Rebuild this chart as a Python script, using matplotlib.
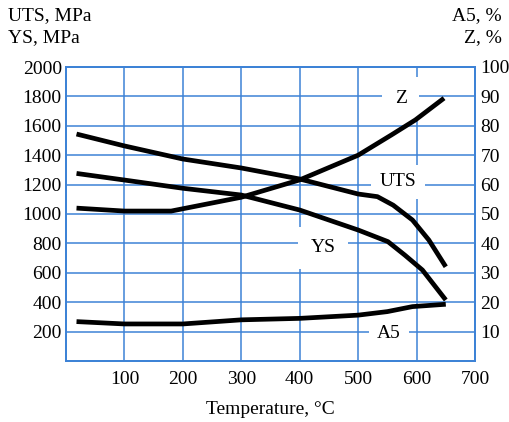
import matplotlib
matplotlib.use("Agg")
import matplotlib.pyplot as plt

# Temperature, °C
uts_t = [18, 100, 200, 300, 400, 500, 533, 560, 593, 621, 650]
uts_v = [1544, 1463, 1374, 1313, 1238, 1136, 1118, 1060, 959, 823, 641]

ys_t = [18, 100, 200, 300, 400, 500, 551, 580, 610, 650]
ys_v = [1276, 1231, 1175, 1129, 1027, 891, 812, 720, 619, 415]

z_t = [18, 100, 180, 300, 400, 500, 557, 598, 647]
z_v = [52.0, 51.0, 51.0, 55.7, 61.6, 70.0, 76.9, 82.0, 89.4]

a5_t = [18, 100, 200, 300, 400, 500, 550, 593, 650]
a5_v = [13.4, 12.6, 12.6, 14.0, 14.5, 15.6, 16.8, 18.5, 19.3]

x_ticks = [100, 200, 300, 400, 500, 600, 700]
left_ticks = [200, 400, 600, 800, 1000, 1200, 1400, 1600, 1800, 2000]
right_ticks = [10, 20, 30, 40, 50, 60, 70, 80, 90, 100]

serif = ["Liberation Serif", "DejaVu Serif"]
plt.rcParams["font.family"] = serif
grid_c = "#3d82d6"

fig = plt.figure(figsize=(5.1, 4.22), dpi=100)
ax = fig.add_axes([66 / 510, (422 - 361) / 422, (475 - 66) / 510, (361 - 67) / 422])
ax2 = ax.twinx()

ax.set_xlim(0, 700)
ax.set_ylim(0, 2000)
ax2.set_ylim(0, 100)
ax.set_xticks(x_ticks)
ax.set_yticks(left_ticks)
ax2.set_yticks(right_ticks)
ax.grid(True, color=grid_c, linewidth=1.1)
ax.set_axisbelow(True)
for a in (ax, ax2):
    for s in a.spines.values():
        s.set_color(grid_c)
        s.set_linewidth(1.3)
    a.tick_params(length=0, labelsize=14, pad=3)
ax2.tick_params(length=0, labelsize=14, pad=4)
ax.tick_params(axis="x", pad=7)

lw = 3.4
ax.plot(uts_t, uts_v, color="black", lw=lw, solid_capstyle="butt", zorder=3)
ax.plot(ys_t, ys_v, color="black", lw=lw, solid_capstyle="butt", zorder=3)
ax2.plot(z_t, z_v, color="black", lw=lw, solid_capstyle="butt", zorder=3)
ax2.plot(a5_t, a5_v, color="black", lw=lw, solid_capstyle="butt", zorder=3)

box = dict(facecolor="white", edgecolor="none", pad=6)
ax.text(573, 1787, "Z", fontsize=14, ha="center", va="center",
        bbox=dict(facecolor="white", edgecolor="none", pad=9), zorder=2)
ax.text(568, 1220, "UTS", fontsize=14, ha="center", va="center", bbox=box, zorder=2)
ax.text(440, 769, "YS", fontsize=14, ha="center", va="center",
        bbox=dict(facecolor="white", edgecolor="none", pad=9), zorder=2)
ax.text(553, 190, "A5", fontsize=14, ha="center", va="center", bbox=box, zorder=2)

fig.text(270 / 510, 1 - 410 / 422, "Temperature, °C", fontsize=14, ha="center", va="center")

fig.text(8 / 510, 1 - 16 / 422, "UTS, MPa", fontsize=14, ha="left", va="center")
fig.text(8 / 510, 1 - 38 / 422, "YS, MPa", fontsize=14, ha="left", va="center")
fig.text(502 / 510, 1 - 16 / 422, "A5, %", fontsize=14, ha="right", va="center")
fig.text(502 / 510, 1 - 38 / 422, "Z, %", fontsize=14, ha="right", va="center")

fig.savefig("out.png", dpi=100)
